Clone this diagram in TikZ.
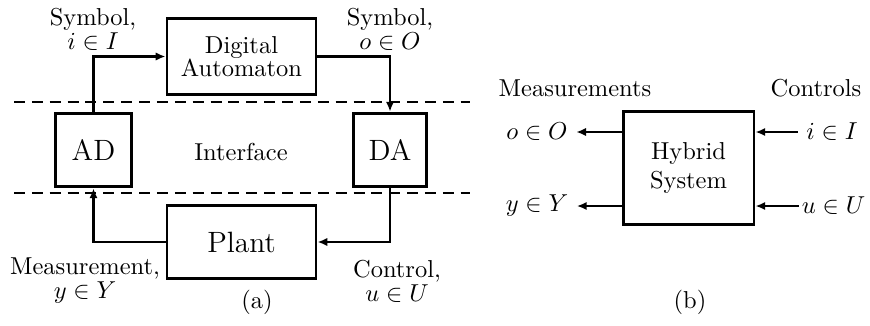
\documentclass[tikz,border=0pt]{standalone}
\usepackage{amsmath, amssymb}
\usetikzlibrary{arrows.meta}
\usetikzlibrary{calc}

\begin{document}
\begin{tikzpicture}[x=0.01436cm, y=-0.01436cm,
    block/.style={draw, line width=1.2pt, inner sep=0pt, align=center},
    conn/.style={line width=0.9pt, -{Latex[length=4pt, width=3.4pt]}},
    sep/.style={line width=0.9pt, dash pattern=on 4.5pt off 2.8pt},
    lbl/.style={align=center}]

        \useasboundingbox (0,0) rectangle (870,325);

        % (a) closed loop
        \node[block, minimum width=2.14cm, minimum height=1.08cm] (aut) at (241.5,56.5) {Digital\\[-2.5pt]Automaton};
        \node[block, minimum width=1.08cm, minimum height=1.06cm, font=\large] (ad) at (93.5,150) {AD};
        \node[block, minimum width=1.06cm, minimum height=1.06cm, font=\large] (da) at (390,150) {DA};
        \node[block, minimum width=2.14cm, minimum height=1.06cm, font=\large] (plant) at (241.5,242) {Plant};
        \node (iface) at (241,152) {Interface};

        \foreach \nm/\yy in {top/102, bot/193} {
          \coordinate (\nm l) at (14,\yy);
          \coordinate (\nm r) at (470,\yy);
          \draw[sep] (\nm l) -- (\nm r);
        }

        \draw[conn] (ad.north) |- (aut.west);
        \draw[conn] (aut.east) -| (da.north);
        \draw[conn] (da.south) |- (plant.east);
        \draw[conn] (plant.west) -| (ad.south);

        \node[lbl] (symi) at (93,29) {Symbol,\\[-2.2pt]$i \in I$};
        \node[lbl] (symo) at (390,29) {Symbol,\\[-2.2pt]$o \in O$};
        \node[lbl] (meas) at (85,281) {Measurement,\\[-2.2pt]$y \in Y$};
        \node[lbl] (ctrl) at (397,281) {Control,\\[-2.2pt]$u \in U$};
        \node (capa) at (257,302) {(a)};

        % (b) black box
        \node[block, minimum width=1.88cm, minimum height=1.61cm] (hyb) at (688.5,168) {Hybrid\\System};

        \node (measall) at (575,88) {Measurements};
        \node (ctrlall) at (816,88) {Controls};

        \node (o) at (537,132) {$o \in O$};
        \node (y) at (537,206) {$y \in Y$};
        \node (i) at (832,132) {$i \in I$};
        \node[inner sep=1pt] (u) at (833.5,206) {$u \in U$};

        \draw[conn] (hyb.west |- o) -- (o.east);
        \draw[conn] (hyb.west |- y) -- (y.east);
        \draw[conn] (i.west) -- (i.west -| hyb.east);
        \draw[conn] (u.west) -- (u.west -| hyb.east);

        \node (capb) at (690,302) {(b)};

\end{tikzpicture}
\end{document}
